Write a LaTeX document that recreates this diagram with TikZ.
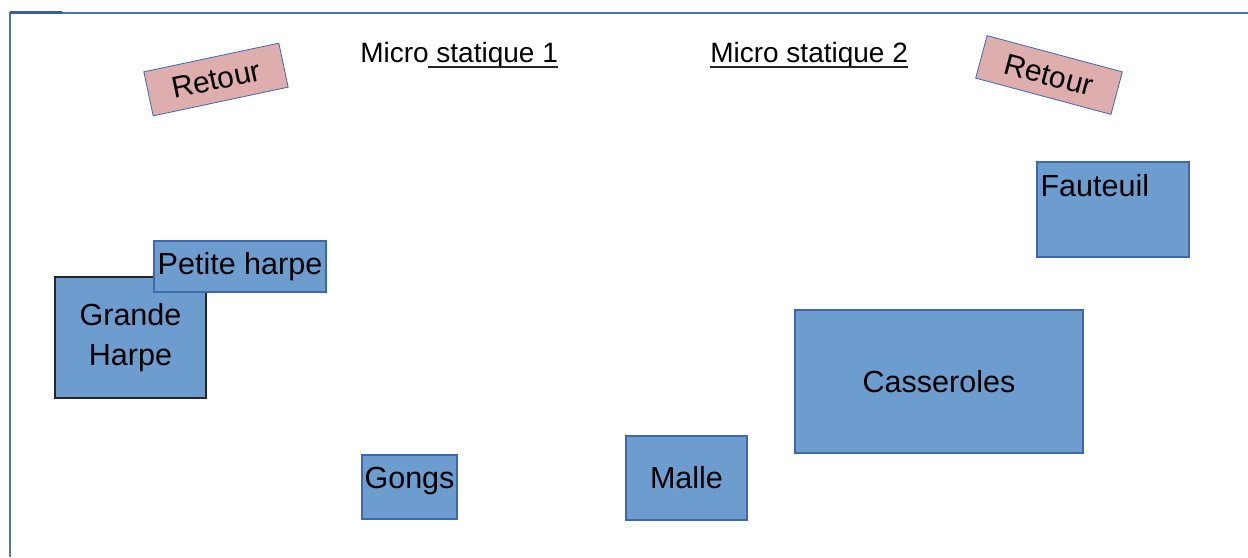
\documentclass[tikz,border=0pt]{standalone}
\usepackage{fontspec}
\setmainfont{Liberation Sans}
\usepackage{tikz}
\usetikzlibrary{positioning, calc}

\definecolor{planblue}{RGB}{109,157,207}
\definecolor{planedge}{RGB}{62,104,172}
\definecolor{retourpink}{RGB}{222,173,173}
\definecolor{framecol}{RGB}{74,116,188}

\tikzset{
  instr/.style={draw=planedge, line width=1.1pt, fill=planblue, inner sep=0pt,
    font=\fontsize{22.9}{30}\selectfont, align=center},
  tagtext/.style={anchor=north, inner xsep=3pt, inner ysep=9.5pt,
    font=\fontsize{22.9}{30}\selectfont},
  retour/.style={draw=planedge, line width=0.6pt, fill=retourpink, inner sep=0pt,
    font=\fontsize{22.5}{27}\selectfont},
  micro/.style={inner sep=0pt, font=\fontsize{21}{25}\selectfont},
  uline/.style={line width=1.1pt, black!85}
}

\begin{document}
\begin{tikzpicture}[x=0.75pt,y=0.75pt,yscale=-1,xscale=1]
	\useasboundingbox (0,0) rectangle (1248,557);
	
	%Shape: Frame
	\draw [framecol, line width=1.5pt] (10,557) -- (10,13) -- (1248,13) ;
	\draw [framecol!80!black, line width=2pt] (9.5,12.8) -- (62,12.8) ;
	
	%Shape: Rectangle (retours)
	\node [retour, minimum width=103.5pt, minimum height=33.75pt, rotate=12] (retour1) at (216,79.5) {Retour};
	\node [retour, minimum width=105pt, minimum height=33pt, rotate=-15] (retour2) at (1049,75) {Retour};
	
	% Text Node
	\node [micro, anchor=base west] (mic1) at (360,62) {Micro statique 1};
	\draw [uline] ($(mic1.base west)+(68,5)$) -- ($(mic1.base east)+(0,5)$) ;
	% Text Node
	\node [micro, anchor=base west] (mic2) at (710,62) {Micro statique 2};
	\draw [uline] ($(mic2.base west)+(0,5)$) -- ($(mic2.base east)+(0,5)$) ;
	
	%Shape: Rectangle (instruments)
	\node [instr, draw=black!85, line width=1.4pt, minimum width=113.25pt, minimum height=90.75pt] (grande) at (130.5,337.5) {Grande\\Harpe};
	\node [instr, minimum width=129pt, minimum height=38.25pt] (petite) at (240,266.5) {Petite harpe};
	\node [instr, minimum width=71.25pt, minimum height=48pt, label={[tagtext]north:Gongs}] (gongs) at (409.5,487) {};
	\node [instr, minimum width=90.75pt, minimum height=63pt] (malle) at (686.5,478) {Malle};
	\node [instr, minimum width=216pt, minimum height=107.25pt] (casseroles) at (939,381.5) {Casseroles};
	\node [instr, minimum width=114pt, minimum height=71.25pt, label={[tagtext, anchor=north west]north west:Fauteuil}] (fauteuil) at (1113,209.5) {};
\end{tikzpicture}
\end{document}
